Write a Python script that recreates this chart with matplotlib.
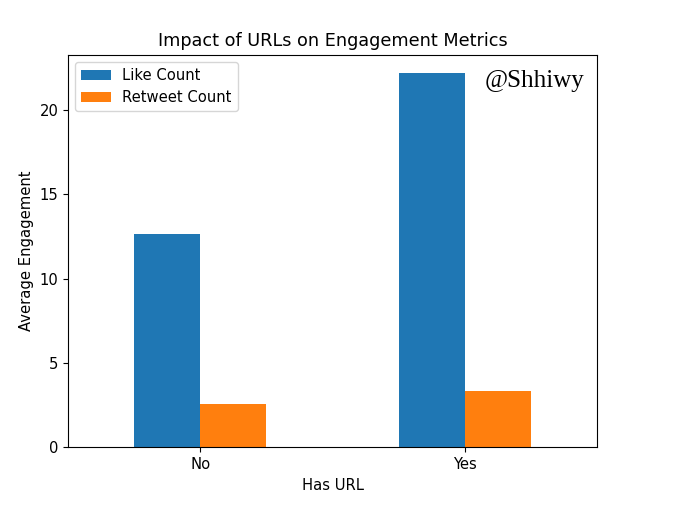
import matplotlib
matplotlib.use("Agg")
import matplotlib.pyplot as plt
import pandas as pd

# average engagement grouped by whether the tweet has a URL
has_url = ["No", "Yes"]
like_count = [12.65, 22.18]
retweet_count = [2.55, 3.36]

df = pd.DataFrame({"Like Count": like_count, "Retweet Count": retweet_count},
                  index=pd.Index(has_url, name="Has URL"))

plt.rcParams["font.size"] = 10.6

fig, ax = plt.subplots(figsize=(6.8, 5.29), dpi=100)
fig.subplots_adjust(left=0.1, right=0.878, top=0.8966, bottom=0.1544)

df.plot(kind="bar", ax=ax, rot=0)
ax.set_title("Impact of URLs on Engagement Metrics")
ax.set_xlabel("Has URL")
ax.set_ylabel("Average Engagement")

ax.text(0.977, 0.962, "@Shhiwy", transform=ax.transAxes, ha="right", va="top",
        fontsize=18, family="Liberation Serif")

fig.savefig("out.png", dpi=100)
